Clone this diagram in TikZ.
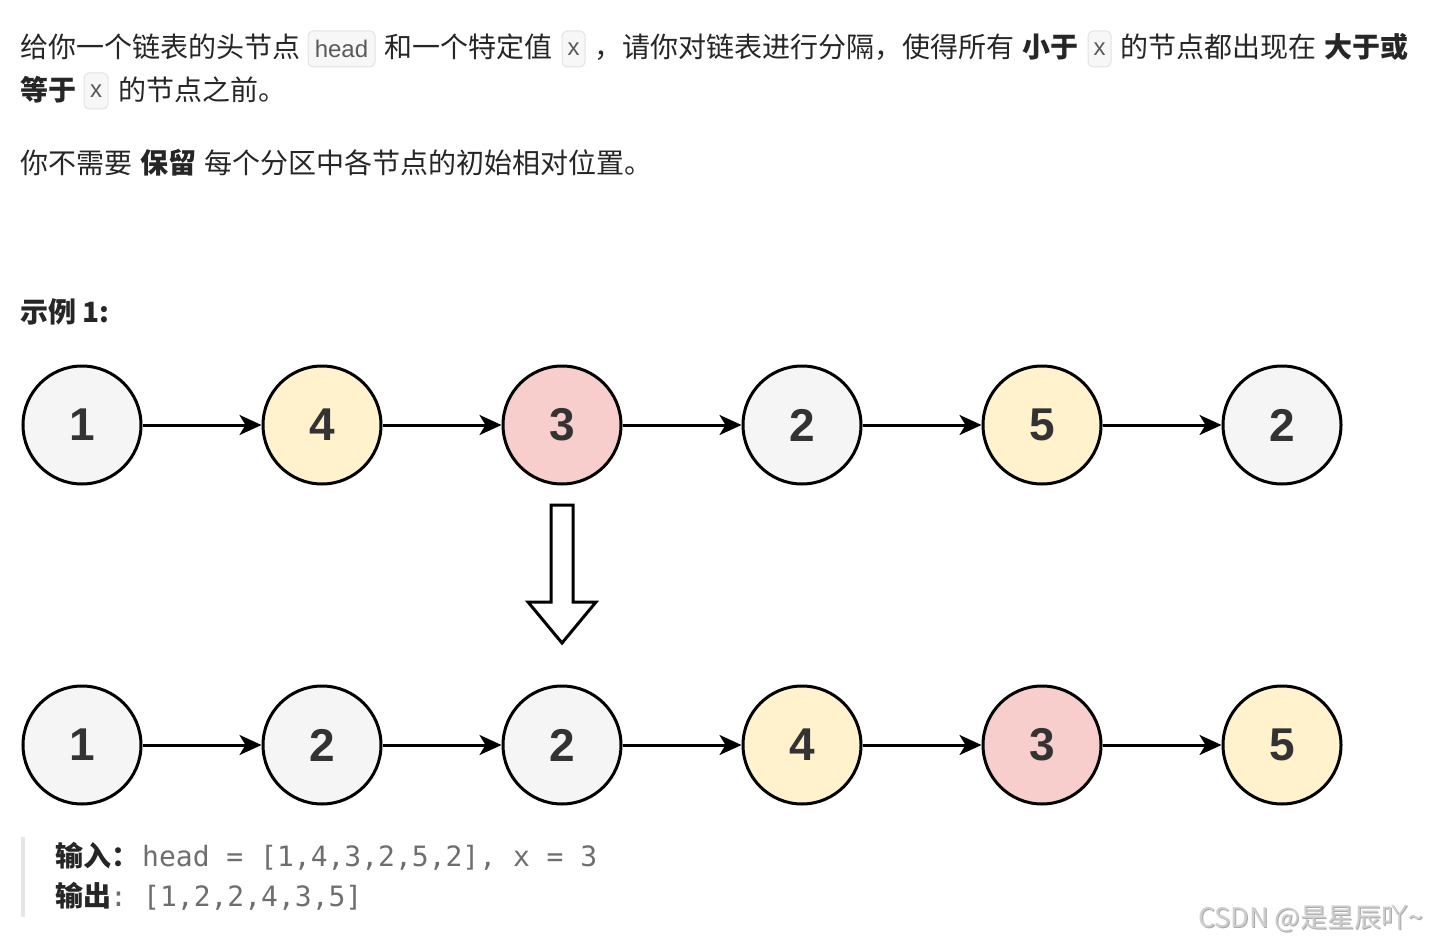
\documentclass[tikz,border=0pt]{standalone}
\usepackage{fontspec}
\setmainfont{Noto Sans CJK SC}
\newfontfamily\codefont{Liberation Sans}
\newfontfamily\monofont{DejaVu Sans Mono}
\newfontfamily\numfont{Liberation Sans}
\usetikzlibrary{arrows.meta}
\definecolor{txtc}{HTML}{262626}
\definecolor{codec}{HTML}{5A5A5A}
\definecolor{codebg}{HTML}{F7F7F7}
\definecolor{codeborder}{HTML}{E3E3E3}
\definecolor{monoc}{HTML}{6E6E6E}
\definecolor{numc}{HTML}{333333}
\definecolor{greyf}{HTML}{F5F5F5}
\definecolor{yellowf}{HTML}{FFF2CC}
\definecolor{redf}{HTML}{F8CECC}
\definecolor{barc}{HTML}{E6E6E6}
\definecolor{wmc}{HTML}{CFCFCF}
\definecolor{wms}{HTML}{A8A8A8}
\tikzset{
  txt/.style={anchor=base west, inner sep=0pt, font=\fontsize{28}{34}\selectfont, text=txtc},
  btxt/.style={anchor=base west, inner sep=0pt, font=\fontsize{28}{34}\selectfont\bfseries, text=txtc},
  codebox/.style={draw=codeborder, fill=codebg, rounded corners=5pt, line width=1pt, inner sep=0pt,
    minimum height=36pt, font=\codefont\fontsize{24}{28}\selectfont, text=codec},
  mono/.style={anchor=base west, inner sep=0pt, font=\monofont\fontsize{28}{34}\selectfont, text=monoc},
  llnode/.style={circle, draw=black, line width=3pt, minimum size=118pt, inner sep=0pt,
    font=\numfont\bfseries\fontsize{46}{52}\selectfont, text=numc},
  arr/.style={line width=3pt, -{Stealth[length=22pt,width=20pt,inset=6pt]}},
  wmark/.style={anchor=base west, inner sep=0pt, font=\fontsize{27}{32}\selectfont},
}
\begin{document}
\begin{tikzpicture}[x=1pt,y=-1pt]
\useasboundingbox[fill=white] (0,0) rectangle (1430,944);
% ---- line 1
\node[txt] (t1a) at (20,58) {给你一个链表的头节点};
\node[codebox, minimum width=67pt] (c1) at (341.5,49) {head};
\node[txt] (t1b) at (384,58) {和一个特定值};
\node[codebox, minimum width=23pt] (c2) at (573.5,49) {x};
\node[txt] (t1c) at (594,58) {，请你对链表进行分隔，使得所有};
\node[btxt] (t1d) at (1022,58) {小于};
\node[codebox, minimum width=23pt] (c3) at (1099.5,49) {x};
\node[txt] (t1e) at (1120,58) {的节点都出现在};
\node[btxt] (t1f) at (1324,58) {大于或};
% ---- line 2
\node[btxt] (t2a) at (20,101) {等于};
\node[codebox, minimum width=24pt] (c4) at (96,91) {x};
\node[txt] (t2b) at (118,101) {的节点之前。};
% ---- line 3
\node[txt] (t3a) at (20,174) {你不需要};
\node[btxt] (t3b) at (140,174) {保留};
\node[txt] (t3c) at (204,174) {每个分区中各节点的初始相对位置。};
% ---- example title
\node[btxt] (ex) at (20,322) {示例 1:};
% ---- linked lists
\begin{scope}
\clip (0,340) rectangle (1343,820);
\node[llnode, fill=greyf]   (a1) at (82,425)   {1};
\node[llnode, fill=yellowf] (a2) at (322,425)  {4};
\node[llnode, fill=redf]    (a3) at (562,425)  {3};
\node[llnode, fill=greyf]   (a4) at (802,425)  {2};
\node[llnode, fill=yellowf] (a5) at (1042,425) {5};
\node[llnode, fill=greyf]   (a6) at (1282,425) {2};
\node[llnode, fill=greyf]   (b1) at (82,745)   {1};
\node[llnode, fill=greyf]   (b2) at (322,745)  {2};
\node[llnode, fill=greyf]   (b3) at (562,745)  {2};
\node[llnode, fill=yellowf] (b4) at (802,745)  {4};
\node[llnode, fill=redf]    (b5) at (1042,745) {3};
\node[llnode, fill=yellowf] (b6) at (1282,745) {5};
\foreach \i/\j in {1/2,2/3,3/4,4/5,5/6}{
  \draw[arr] (a\i) -- (a\j);
  \draw[arr] (b\i) -- (b\j);
}
\end{scope}
% ---- big down arrow
\draw[line width=3pt, fill=white, line join=miter]
  (551,505) -- (573,505) -- (573,602) -- (596,602) -- (562,643) -- (528,602) -- (551,602) -- cycle;
% ---- input / output block
\fill[barc] (21,837) rectangle (25,917);
\node[btxt] (in) at (55,866) {输入：};
\node[mono] (inv) at (142,866) {head = [1,4,3,2,5,2], x = 3};
\node[btxt] (out) at (55,906) {输出};
\node[mono] (outc) at (110,906) {:};
\node[mono] (outv) at (143,906) {[1,2,2,4,3,5]};
% ---- watermark
\node[wmark, text=wms] (wm2) at (1199,928) {CSDN @是星辰吖\textasciitilde};
\node[wmark, text=wmc] (wm) at (1198,927) {CSDN @是星辰吖\textasciitilde};
\end{tikzpicture}
\end{document}
